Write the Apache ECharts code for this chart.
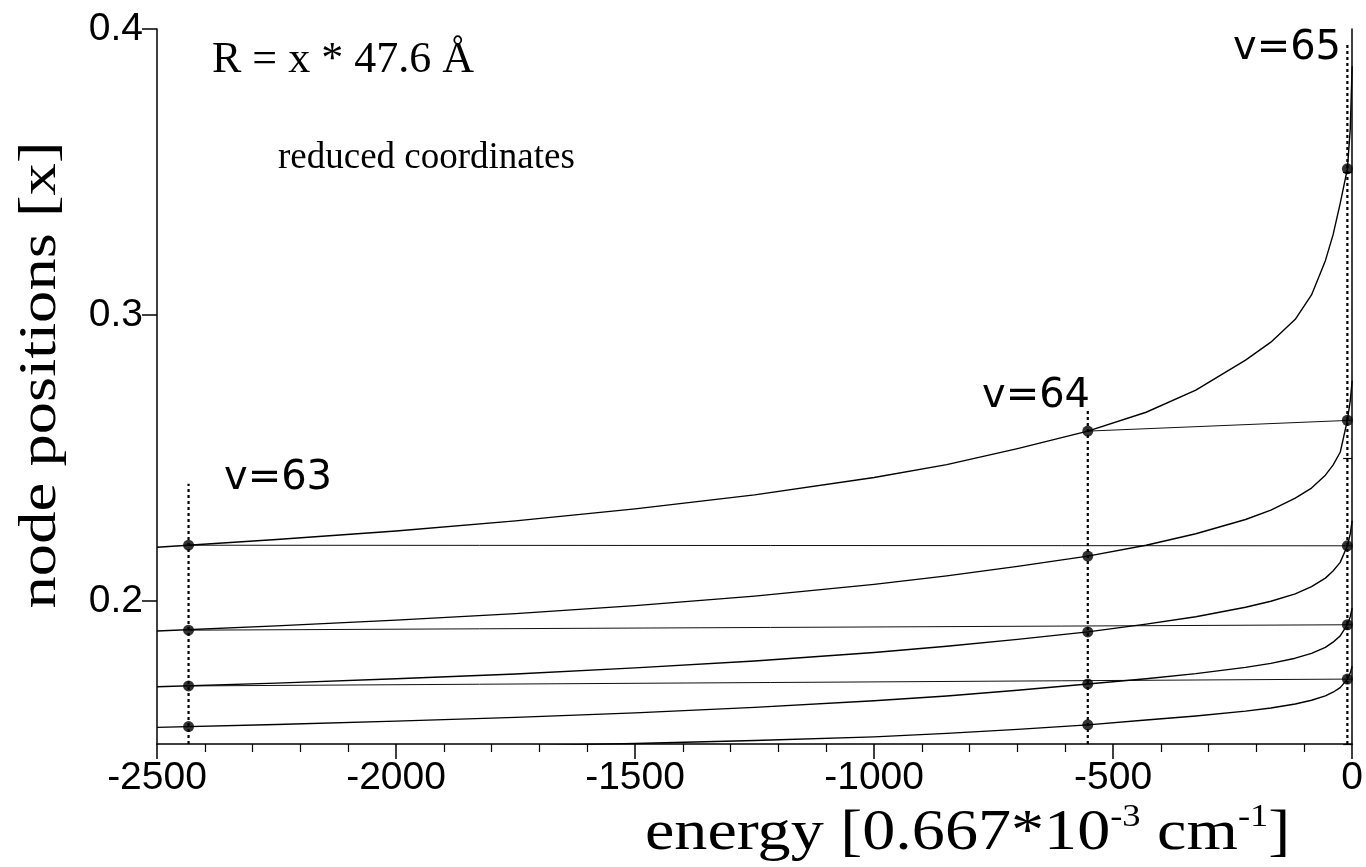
<!DOCTYPE html>
<html>
<head>
<meta charset="utf-8">
<script src="https://cdn.jsdelivr.net/npm/echarts@6/dist/echarts.min.js"></script>
<style>html,body{margin:0;padding:0;background:#fff}#c{width:1366px;height:867px}</style>
</head>
<body>
<div id="c"></div>
<script>
// ---- data ----
const energyGrid = [-2500, -2250, -2000, -1750, -1500, -1250, -1000, -848, -700, -553, -431, -327, -223, -170, -119, -85, -56, -40, -25, -10, -4, 0];
const curveA = [0.2188, 0.2215, 0.2245, 0.2280, 0.2322, 0.2371, 0.2432, 0.2477, 0.2533, 0.2594, 0.2660, 0.2737, 0.2842, 0.2905, 0.2985, 0.3070, 0.3190, 0.3280, 0.3390, 0.3511, 0.3650, 0.3870];
const curveB = [0.1895, 0.1913, 0.1933, 0.1956, 0.1984, 0.2017, 0.2058, 0.2088, 0.2121, 0.2157, 0.2195, 0.2235, 0.2285, 0.2318, 0.2360, 0.2395, 0.2440, 0.2475, 0.2520, 0.2632, 0.2700, 0.2770];
const curveC = [0.1700, 0.1713, 0.1728, 0.1745, 0.1766, 0.1790, 0.1820, 0.1842, 0.1866, 0.1892, 0.1919, 0.1945, 0.1978, 0.1999, 0.2025, 0.2050, 0.2080, 0.2105, 0.2135, 0.2193, 0.2235, 0.2280];
const curveD = [0.1558, 0.1568, 0.1580, 0.1593, 0.1609, 0.1628, 0.1651, 0.1668, 0.1688, 0.1710, 0.1728, 0.1746, 0.1768, 0.1782, 0.1800, 0.1817, 0.1838, 0.1856, 0.1878, 0.1917, 0.1945, 0.1975];
const curveE = [0.1472, 0.1478, 0.1485, 0.1493, 0.1502, 0.1512, 0.1525, 0.1537, 0.1551, 0.1567, 0.1584, 0.1598, 0.1615, 0.1626, 0.1640, 0.1653, 0.1668, 0.1681, 0.1697, 0.1727, 0.1748, 0.1772];

const levelNames = ['v=63', 'v=64', 'v=65'];
const levelEnergy = [-2434, -553, -10];
const levelLineTop = [0.241, 0.2674, 0.3954];
const nodesV63 = [0.2195, 0.1898, 0.1703, 0.1561];
const nodesV64 = [0.2594, 0.2157, 0.1892, 0.1710, 0.1567];
const nodesV65 = [0.3511, 0.2632, 0.2193, 0.1917, 0.1727];

// nearly horizontal connecting lines
const hLineStartE = [-2434, -2434, -2434, -553];
const hLineStartV = [0.2195, 0.1898, 0.1703, 0.2594];
const hLineEndE = [0, 0, 0, 0];
const hLineEndV = [0.2193, 0.1917, 0.1727, 0.2632];

const xTicks = [-2500, -2000, -1500, -1000, -500, 0];
const yTickLabels = [0.2, 0.3, 0.4];
const yMinorTicks = [0.15, 0.25, 0.35];

// ---- build ----
const SANS = 'Liberation Sans, Arial, Helvetica, sans-serif';
const SERIF = 'Liberation Serif, Times New Roman, serif';
const zip = (xs, ys) => xs.map((x, i) => [x, ys[i]]);
const series = [];
[curveA, curveB, curveC, curveD, curveE].forEach((c, i) => {
  series.push({
    type: 'line', name: 'curve' + i, data: zip(energyGrid, c),
    smooth: false, showSymbol: false, silent: true,
    lineStyle: {color: '#000', width: 1.4, join: 'round'}, z: 3
  });
});
hLineStartE.forEach((e, i) => {
  series.push({
    type: 'line', data: [[e, hLineStartV[i]], [hLineEndE[i], hLineEndV[i]]],
    showSymbol: false, silent: true,
    lineStyle: {color: '#111', width: 1}, z: 2
  });
});
levelEnergy.forEach((e, i) => {
  series.push({
    type: 'line', data: [[e, 0.15], [e, levelLineTop[i]]],
    showSymbol: false, silent: true,
    lineStyle: {color: '#000', width: 2.2, type: [3, 3]}, z: 2
  });
});
const dots = [];
[nodesV63, nodesV64, nodesV65].forEach((arr, i) => arr.forEach(v => dots.push([levelEnergy[i], v])));
series.push({
  type: 'scatter', data: dots, symbol: 'circle', symbolSize: 11,
  itemStyle: {color: '#000'}, silent: true, z: 5
});

const chart = echarts.init(document.getElementById('c'), null, {renderer: 'canvas'});
chart.setOption({
  animation: false,
  backgroundColor: '#fff',
  grid: {left: 157, right: 8, top: 29, bottom: 123},
  xAxis: {
    type: 'value', min: xTicks[0], max: xTicks[xTicks.length - 1], interval: 500,
    axisLine: {show: true, onZero: false, lineStyle: {color: '#000', width: 1.5}},
    axisTick: {show: true, length: 15, lineStyle: {color: '#000', width: 1.5}},
    minorTick: {show: true, splitNumber: 5, length: 8, lineStyle: {color: '#000', width: 1.2}},
    splitLine: {show: false},
    axisLabel: {color: '#000', fontSize: 39, fontFamily: SANS, margin: 15, formatter: v => String(v)}
  },
  yAxis: [{
    type: 'value', min: 0.15, max: 0.4, position: 'left',
    axisLine: {show: true, onZero: false, lineStyle: {color: '#000', width: 1.5}},
    axisTick: {show: true, length: 15, customValues: yTickLabels, lineStyle: {color: '#000', width: 1.5}},
    axisLabel: {color: '#000', fontSize: 39, fontFamily: SANS, margin: 14, customValues: yTickLabels,
      formatter: v => v.toFixed(1)},
    splitLine: {show: false}
  }, {
    type: 'value', min: 0.15, max: 0.4, position: 'left',
    axisLine: {show: false},
    axisTick: {show: true, length: 9, customValues: yMinorTicks, lineStyle: {color: '#000', width: 1.2}},
    axisLabel: {show: false}, splitLine: {show: false}
  }, {
    type: 'value', min: 0.15, max: 0.4, position: 'right',
    axisLine: {show: true, lineStyle: {color: '#000', width: 1.5}},
    axisTick: {show: false}, axisLabel: {show: false}, splitLine: {show: false}
  }],
  series: series,
  graphic: [
    {type: 'text', x: 41, y: 375, rotation: Math.PI / 2, scaleX: 1.22, scaleY: 1,
      style: {text: 'node positions [x]', font: '53px ' + SERIF, fill: '#000', align: 'center', verticalAlign: 'middle'}},
    {type: 'text', x: 645, y: 834, scaleX: 1.14, scaleY: 1,
      style: {text: '{a|energy [0.667*10}{s|-3}{a| cm}{s|-1}{a|]}', fill: '#000', align: 'left', verticalAlign: 'middle',
        rich: {
          a: {fontFamily: SERIF, fontSize: 58, fill: '#000', lineHeight: 64},
          s: {fontFamily: SERIF, fontSize: 32, fill: '#000', lineHeight: 32, verticalAlign: 'top'}
        }}},
    {type: 'text', x: 212, y: 60, style: {text: 'R = x * 47.6 Å', font: '44px ' + SERIF, fill: '#000', align: 'left', verticalAlign: 'middle'}},
    {type: 'text', x: 278, y: 158, style: {text: 'reduced coordinates', font: '37px ' + SERIF, fill: '#000', align: 'left', verticalAlign: 'middle'}},
    {type: 'text', x: 278, y: 479, style: {text: levelNames[0], font: '40px DejaVu Sans, sans-serif', fill: '#000', align: 'center', verticalAlign: 'middle'}},
    {type: 'text', x: 1036, y: 397, style: {text: levelNames[1], font: '40px DejaVu Sans, sans-serif', fill: '#000', align: 'center', verticalAlign: 'middle'}},
    {type: 'text', x: 1287, y: 49, style: {text: levelNames[2], font: '40px DejaVu Sans, sans-serif', fill: '#000', align: 'center', verticalAlign: 'middle'}}
  ]
});
</script>
</body>
</html>
